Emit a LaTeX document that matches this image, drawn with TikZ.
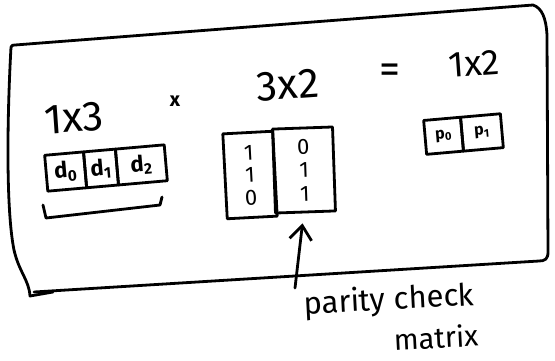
\documentclass[tikz,border=0pt]{standalone}
\usepackage{fontspec}
\setmainfont{Fira Sans}
\usetikzlibrary{arrows.meta}
\begin{document}
\begin{tikzpicture}[x=1pt,y=-1pt,
  ink/.style={line width=2.8pt,line cap=round,line join=round},
  big/.style={font=\fontsize{42}{42}\selectfont,inner sep=0pt},
  cellbox/.style={draw,ink,rectangle,inner sep=0pt,minimum height=36pt,rotate=5,font=\bfseries\fontsize{22}{22}\selectfont},
  pcell/.style={draw,ink,rectangle,inner sep=0pt,minimum height=34pt,rotate=5,font=\bfseries\fontsize{16}{16}\selectfont},
  colbox/.style={draw,ink,rectangle,inner sep=0pt,align=center},
  note/.style={font=\fontsize{31}{31}\selectfont,inner sep=0pt}
]
\useasboundingbox (0,0) rectangle (555,360);

% frame
\draw[ink] (11,47) .. controls (12,45) and (13,45) .. (15,45) -- (533,5)
  .. controls (542,8) and (546,18) .. (547,35) -- (548,252)
  .. controls (548,259) and (545,261) .. (539,261) -- (34,292);
\draw[ink] (11,47) .. controls (7,120) and (6,210) .. (14,250)
  .. controls (19,272) and (29,280) .. (30,296) -- (53,292);

% labels of sizes
\node[big, rotate=4] (t13) at (74,118) {1x3};
\node[font=\bfseries\fontsize{20}{20}\selectfont, inner sep=0pt] (times) at (175,101) {x};
\node[big, rotate=4] (t32) at (288,85) {3x2};
\node[big] (eq) at (390,74) {=};
\node[font=\fontsize{36}{36}\selectfont, inner sep=0pt, rotate=4] (t12) at (474,64) {1x2};

% data vector
\begin{scope}[shift={(106,168)}, rotate=5]
  \node[cellbox, minimum width=39pt] (d0) at (-40.5,0) {d\textsubscript{0}};
  \node[cellbox, minimum width=32pt] (d1) at (-5,0) {d\textsubscript{1}};
  \node[cellbox, minimum width=49pt] (d2) at (35.5,0) {d\textsubscript{2}};
\end{scope}
\draw[ink] (43,205) -- (46,218) -- (160,205) -- (162,197);

% parity check matrix
\node[colbox, minimum width=50pt, minimum height=85pt, rotate=3,
  font=\fontsize{22}{22.5}\selectfont] (h1) at (250,175) {1\\1\\0};
\node[colbox, minimum width=60pt, minimum height=84pt, rotate=2,
  font=\fontsize{22}{23.5}\selectfont] (h2) at (304,170) {0\\1\\1};

% parity vector
\begin{scope}[shift={(464,134)}, rotate=5]
  \node[pcell, minimum width=37pt] (p0) at (-20.5,0) {p\textsubscript{0}};
  \node[pcell, minimum width=40pt] (p1) at (18,0) {p\textsubscript{1}};
\end{scope}

% annotation
\node[note, rotate=3] (pc) at (389,301) {parity check};
\node[font=\fontsize{29}{29}\selectfont, inner sep=0pt, rotate=3] (mx) at (436,337) {matrix};
\coordinate (arrbase) at (295,288);
\draw[ink,-{Straight Barb[length=14pt,width=22pt]}] (arrbase) -- ([shift={(-3,10)}]h2.south);
\end{tikzpicture}
\end{document}
